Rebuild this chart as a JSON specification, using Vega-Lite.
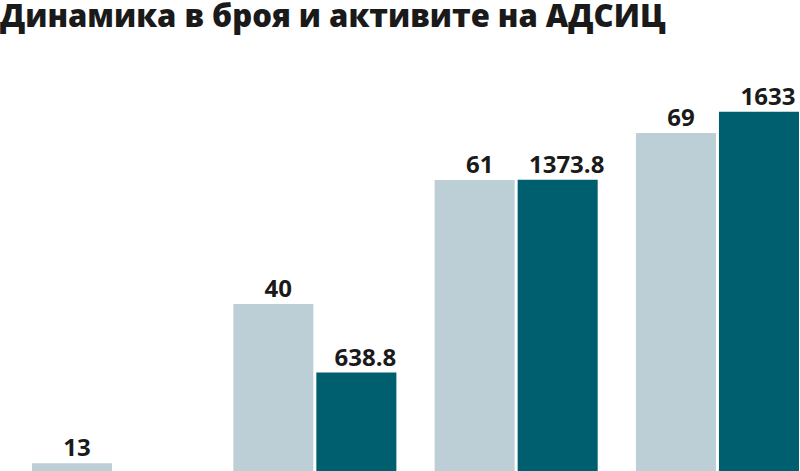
{
  "$schema": "https://vega.github.io/schema/vega-lite/v6.json",
  "autosize": "none",
  "padding": {"top": 50, "left": 0, "right": 0, "bottom": 0},
  "width": 831,
  "height": 490,
  "background": "#ffffff",
  "title": {
    "text": "Динамика в броя и активите на АДСИЦ",
    "anchor": "start",
    "frame": "group",
    "font": "Open Sans",
    "fontSize": 31,
    "fontWeight": 800,
    "color": "#1a1a1a",
    "baseline": "alphabetic",
    "offset": 20,
    "dy": 28
  },
  "data": {
    "values": [
      {"year": "2005", "series": "Брой", "value": 13},
      {"year": "2005", "series": "Активи", "value": 60},
      {"year": "2006", "series": "Брой", "value": 40},
      {"year": "2006", "series": "Активи", "value": 638.8},
      {"year": "2007", "series": "Брой", "value": 61},
      {"year": "2007", "series": "Активи", "value": 1373.8},
      {"year": "2008", "series": "Брой", "value": 69},
      {"year": "2008", "series": "Активи", "value": 1633}
    ]
  },
  "encoding": {
    "x": {
      "field": "year",
      "type": "nominal",
      "axis": null,
      "scale": {"paddingInner": 0.19, "paddingOuter": 0.159}
    },
    "xOffset": {
      "field": "series",
      "type": "nominal",
      "sort": ["Брой", "Активи"],
      "scale": {"paddingInner": 0.036, "paddingOuter": 0}
    }
  },
  "layer": [
    {
      "transform": [{"filter": "datum.series === 'Брой'"}],
      "encoding": {
        "y": {
          "field": "value",
          "type": "quantitative",
          "axis": null,
          "scale": {"domain": [0, 83.05], "nice": false}
        }
      },
      "layer": [
        {"mark": {"type": "bar", "color": "#bccfd7"}},
        {
          "mark": {
            "type": "text",
            "baseline": "alphabetic",
            "dy": -7,
            "dx": 5,
            "font": "Open Sans",
            "fontSize": 24,
            "fontWeight": 700,
            "color": "#1a1a1a"
          },
          "encoding": {"text": {"field": "value", "type": "quantitative"}}
        }
      ]
    },
    {
      "transform": [{"filter": "datum.series === 'Активи'"}],
      "encoding": {
        "y": {
          "field": "value",
          "type": "quantitative",
          "axis": null,
          "scale": {"domain": [0, 1869], "nice": false}
        }
      },
      "layer": [
        {"mark": {"type": "bar", "color": "#005f6e"}},
        {
          "mark": {
            "type": "text",
            "baseline": "alphabetic",
            "dy": -7,
            "dx": 9,
            "font": "Open Sans",
            "fontSize": 24,
            "fontWeight": 700,
            "color": "#1a1a1a"
          },
          "encoding": {"text": {"field": "value", "type": "quantitative"}}
        }
      ]
    }
  ],
  "resolve": {"scale": {"y": "independent"}},
  "config": {"view": {"stroke": null}}
}
